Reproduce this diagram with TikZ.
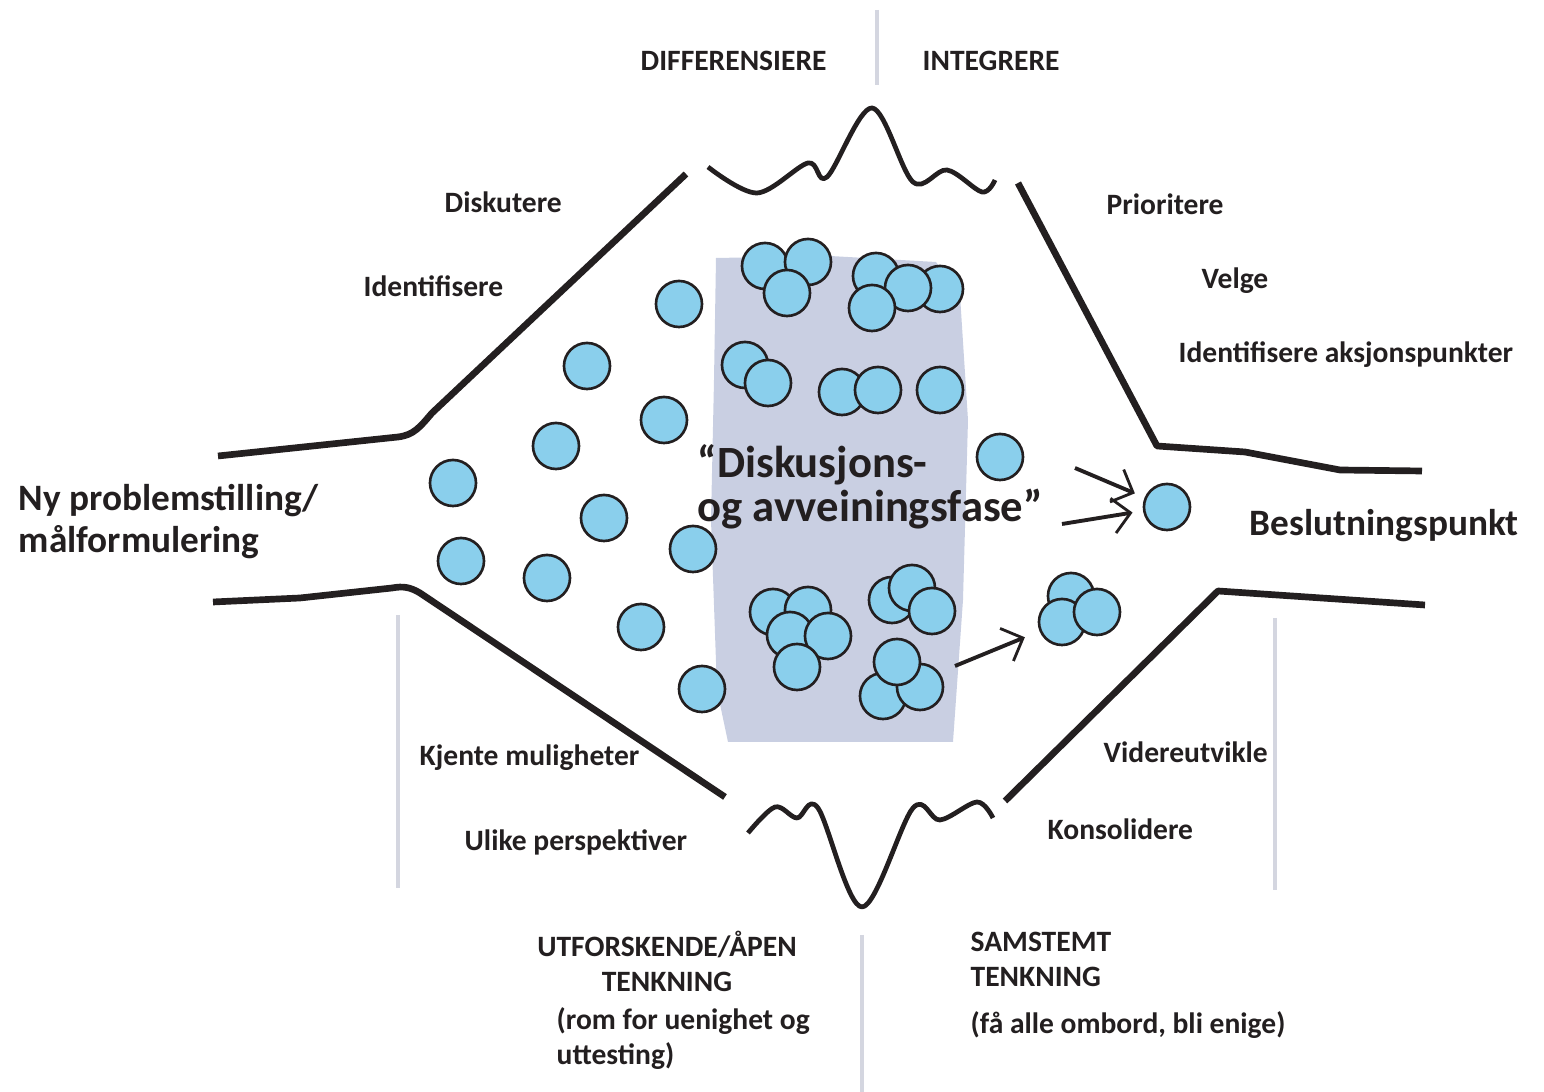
\documentclass[tikz,border=0pt]{standalone}
\usepackage{fontspec}
\setmainfont{Carlito}
\usetikzlibrary{arrows.meta, positioning}
\definecolor{ink}{RGB}{35,31,32}
\definecolor{bubble}{RGB}{138,207,236}
\definecolor{panel}{RGB}{201,207,226}
\definecolor{sepgrey}{RGB}{212,214,224}

\tikzset{
  rim/.style={line width=1.9pt, color=ink, line join=round},
  wave/.style={line width=1.35pt, color=ink, line join=round},
  sepline/.style={line width=1.3pt, color=sepgrey},
  bub/.style={circle, draw=ink, line width=0.75pt, fill=bubble, minimum size=0.46cm, inner sep=0pt},
  arr/.style={line width=1.1pt, color=ink, -{Straight Barb[length=5pt,width=10pt,line width=0.8pt]}},
  lbl/.style={font=\bfseries\fontsize{8.4}{10.1}\selectfont, text=ink, inner sep=0pt, anchor=base west},
  big/.style={font=\bfseries\fontsize{10.6}{12.2}\selectfont, text=ink, inner sep=0pt},
}

\begin{document}
\begin{tikzpicture}[x=0.01cm, y=-0.01cm]
\useasboundingbox (0,0) rectangle (1544,1092);

% grey phase panel
\fill[panel] (716,258) -- (830,256) -- (936,262) -- (960,295) -- (968,420)
  -- (963,600) -- (953,742) -- (728,742) -- (717,690) -- (711,520) -- (714,380) -- cycle;

% separators
\draw[sepline] (877,10) -- (877,85);
\draw[sepline] (398,615) -- (398,888);
\draw[sepline] (1275,618) -- (1275,890);
\draw[sepline] (862,935) -- (862,1092);

% funnel outline
\draw[rim] (218,456) -- (398,437) .. controls (414,435) and (420,427) .. (432,413) -- (686,174);
\draw[rim] (213,602) -- (300,598) -- (392,588) .. controls (403,586) and (410,587) .. (420,593) -- (725,797);
\draw[rim] (1018,183) -- (1157,446) -- (1245,452) -- (1340,470) -- (1422,471);
\draw[rim] (1005,801) -- (1218,591) -- (1425,605);

% the wavy openings
\draw[wave] plot[smooth, tension=0.55] coordinates {(708,167) (757,193) (808,163) (827,177) (872,108) (913,182) (947,170) (982,192) (995,180)};
\draw[wave] plot[smooth, tension=0.55] coordinates {(748,833) (775,807) (797,818) (818,808) (862,907) (913,808) (940,820) (977,802) (993,818)};

% loose ideas
\foreach \x/\y [count=\i] in {679/304, 587/366, 664/420, 556/446, 453/483, 604/518,
  693/549, 461/561, 547/578, 641/627, 702/689, 1000/457}
  \node[bub] (l\i) at (\x,\y) {};

% clusters
\foreach \x/\y [count=\i] in {765/266, 808/262, 787/293,
  940/289, 876/276, 908/288, 872/308,
  745/365, 768/383, 842/392, 878/390, 940/390,
  773/612, 808/610, 790/635, 828/636, 797/667,
  892/600, 912/588, 932/611,
  883/696, 920/687, 897/662}
  \node[bub] (k\i) at (\x,\y) {};

% merged cluster and decision point
\node[bub] (r1) at (1071,596) {};
\node[bub] (r2) at (1062,622) {};
\node[bub] (r3) at (1097,612) {};
\node[bub] (dp) at (1167,507) {};

\coordinate (a1) at (1075,468);
\coordinate (a2) at (1062,524);
\coordinate (a3) at (955,666);
\draw[arr, shorten >=3pt] (a1) -- (dp);
\draw[arr, shorten >=3pt] (a2) -- (dp);
\draw[arr, shorten >=4.5pt] (a3) -- (r2);

% phase text (anchors sit on the last line)
\node[big, font=\bfseries\fontsize{12.7}{12.6}\selectfont, align=left, anchor=base west] (fase) at (697,522)
  {“Diskusjons-\\og avveiningsfase”};
\node[big, align=left, anchor=base west] (start) at (18,553) {Ny problemstilling/\\målformulering};
\node[big, anchor=base west] (slutt) at (1249,536) {Beslutningspunkt};

% labels
\node[lbl] (diff) at (640,71) {DIFFERENSIERE};
\node[lbl] (integ) at (922,71) {INTEGRERE};
\node[lbl] (disk) at (444,213) {Diskutere};
\node[lbl] (ident) at (363,297) {Identifisere};
\node[lbl] (prio) at (1106,215) {Prioritere};
\node[lbl] (velg) at (1201,289) {Velge};
\node[lbl] (aksj) at (1178,363) {Identifisere aksjonspunkter};
\node[lbl] (kjent) at (419,766) {Kjente muligheter};
\node[lbl] (ulike) at (464,851) {Ulike perspektiver};
\node[lbl] (vid) at (1103,763) {Videreutvikle};
\node[lbl] (kons) at (1047,840) {Konsolidere};

\node[lbl, anchor=base, align=center] (utf) at (667,992) {UTFORSKENDE/ÅPEN\\TENKNING};
\node[lbl, align=left] (rom) at (556,1065) {(rom for uenighet og\\uttesting)};
\node[lbl, align=left] (sam) at (970,987) {SAMSTEMT\\TENKNING};
\node[lbl] (enig) at (970,1034) {(få alle ombord, bli enige)};
\end{tikzpicture}
\end{document}
